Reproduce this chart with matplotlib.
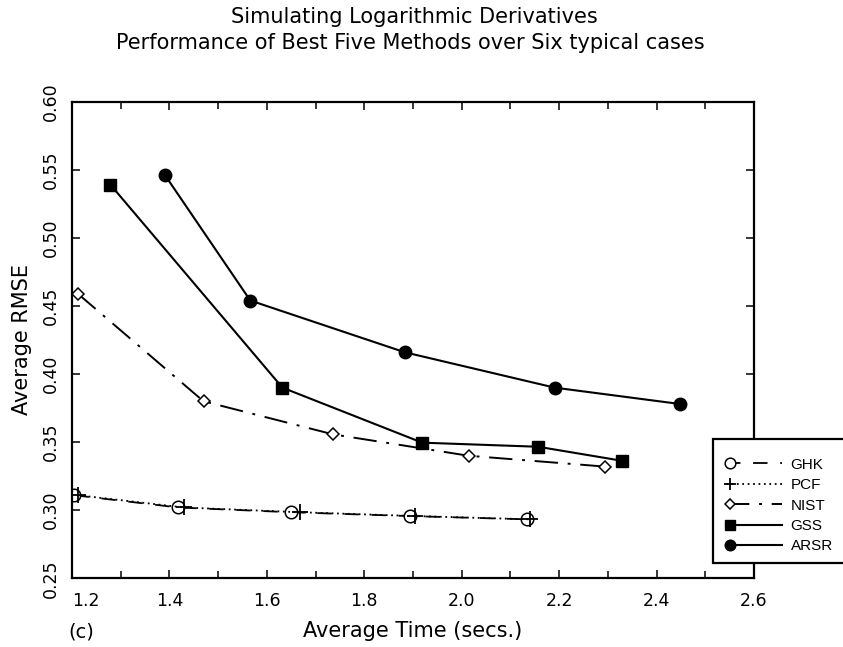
import matplotlib
matplotlib.use("Agg")
import matplotlib.pyplot as plt
from matplotlib.legend_handler import HandlerLine2D
from matplotlib.lines import Line2D
from matplotlib.patches import Rectangle

plt.rcParams['font.family'] = ['DejaVu Sans']

# Average time (secs.) and average RMSE for each method
ghk_time = [1.205, 1.418, 1.650, 1.893, 2.134]
ghk_rmse = [0.311, 0.302, 0.2985, 0.2957, 0.2933]
pcf_time = [1.212, 1.430, 1.668, 1.905, 2.140]
pcf_rmse = [0.311, 0.302, 0.2985, 0.2957, 0.2933]
nist_time = [1.212, 1.470, 1.736, 2.014, 2.295]
nist_rmse = [0.459, 0.380, 0.3557, 0.340, 0.332]
gss_time = [1.279, 1.632, 1.919, 2.157, 2.329]
gss_rmse = [0.539, 0.390, 0.3496, 0.3466, 0.3363]
arsr_time = [1.391, 1.566, 1.883, 2.191, 2.448]
arsr_rmse = [0.546, 0.454, 0.416, 0.390, 0.378]

x_ticks = [1.2, 1.4, 1.6, 1.8, 2.0, 2.2, 2.4, 2.6]
y_ticks = [0.25, 0.30, 0.35, 0.40, 0.45, 0.50, 0.55, 0.60]


class MarkerFirstHandler(HandlerLine2D):
    """Legend sample: a line across the handle box, marker at its left end."""
    def create_artists(self, legend, orig_handle, xdescent, ydescent,
                       width, height, fontsize, trans):
        y = (height - ydescent) / 2
        line = Line2D([-xdescent, -xdescent + width], [y, y])
        self.update_prop(line, orig_handle, legend)
        line.set_marker('None')
        mk = Line2D([-xdescent + 3], [y])
        self.update_prop(mk, orig_handle, legend)
        mk.set_linestyle('None')
        mk.set_markersize(orig_handle.get_markersize() * 0.85)
        line.set_transform(trans)
        mk.set_transform(trans)
        return [line, mk]


fig = plt.figure(figsize=(8.43, 6.47), dpi=100)
ax = fig.add_axes([0.0854, 0.1062, 0.8090, 0.7366])

lw = 1.5
h_ghk, = ax.plot(ghk_time, ghk_rmse, color='black', lw=1.3, ls=(0, (8, 7)),
                 marker='o', ms=9, mfc='white', mec='black', mew=1.1, label='GHK')
h_pcf, = ax.plot(pcf_time, pcf_rmse, color='black', lw=1.3, ls=(0, (1, 2)),
                 marker='+', ms=11, mew=1.3, label='PCF')
h_nist, = ax.plot(nist_time, nist_rmse, color='black', lw=1.4,
                  ls=(0, (12, 5, 1.5, 5)),
                  marker='D', ms=6.5, mfc='white', mec='black', mew=1.1, label='NIST')
h_gss, = ax.plot(gss_time, gss_rmse, color='black', lw=lw, ls='-',
                 marker='s', ms=8, mfc='black', mec='black', label='GSS')
h_arsr, = ax.plot(arsr_time, arsr_rmse, color='black', lw=lw, ls='-',
                  marker='o', ms=9, mfc='black', mec='black', label='ARSR')

ax.set_xlim(1.2, 2.6)
ax.set_ylim(0.25, 0.60)
ax.set_xticks(x_ticks)
ax.set_xticklabels([f"{v:.1f}" for v in x_ticks])
ax.set_xticks([1.3, 1.5, 1.7, 1.9, 2.1, 2.3, 2.5], minor=True)
ax.set_yticks(y_ticks)
ax.set_yticklabels([f"{v:.2f}" for v in y_ticks])

for s in ax.spines.values():
    s.set_linewidth(1.6)

ax.tick_params(axis='both', which='both', direction='in', top=True, right=True,
               width=1.1, labelsize=12.5)
ax.tick_params(axis='both', which='major', length=6)
ax.tick_params(axis='both', which='minor', length=5)
ax.tick_params(axis='x', pad=10)
ax.tick_params(axis='y', pad=9)
for lab in ax.get_yticklabels():
    lab.set_rotation(90)
    lab.set_va('center')
    lab.set_ha('right')
ax.get_xticklabels()[0].set_ha('left')

ax.set_xlabel('Average Time (secs.)', fontsize=15, labelpad=8)
ax.set_ylabel('Average RMSE', fontsize=15, labelpad=7)

fig.text(414 / 843, 1 - 17 / 647, 'Simulating Logarithmic Derivatives',
         ha='center', va='center', fontsize=15)
fig.text(410 / 843, 1 - 43 / 647,
         'Performance of Best Five Methods over Six typical cases',
         ha='center', va='center', fontsize=15)
fig.text(68 / 843, 1 - 632 / 647, '(c)', ha='left', va='center', fontsize=14)

# Legend box running off the right edge of the figure
fig.patches.append(Rectangle((712.7 / 843, 1 - 562.5 / 647),
                             0.3, (562.5 - 439.3) / 647,
                             transform=fig.transFigure, facecolor='white',
                             edgecolor='black', lw=1.6, zorder=5))
handles = [h_ghk, h_pcf, h_nist, h_gss, h_arsr]
leg = fig.legend(handles=handles,
                 loc='upper left', bbox_to_anchor=(715 / 843, 1 - 447 / 647),
                 frameon=False, handlelength=3.7, handletextpad=0.55,
                 labelspacing=0.42, borderpad=0.2,
                 prop={'family': 'Liberation Sans', 'size': 11},
                 handler_map={h: MarkerFirstHandler() for h in handles})
leg.set_zorder(6)

fig.savefig('out.png', dpi=100)
